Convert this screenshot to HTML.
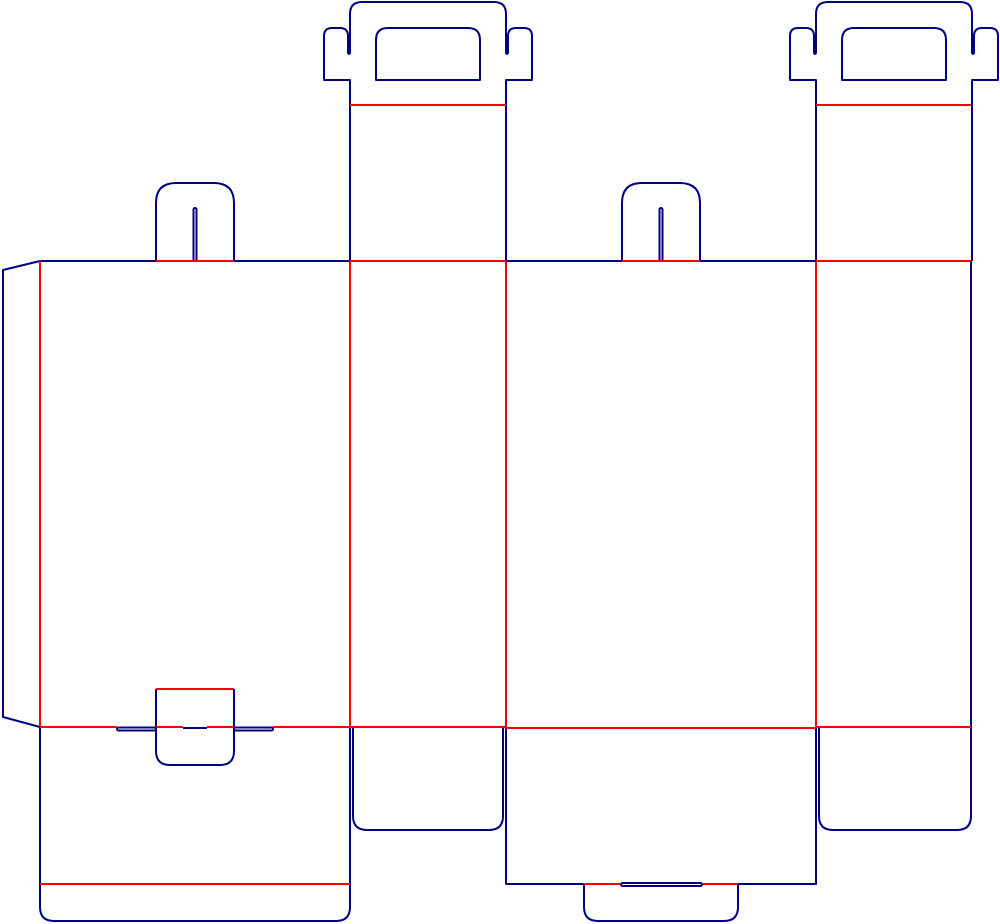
<!DOCTYPE html>
<html><head><meta charset="utf-8"><style>html,body{margin:0;padding:0;background:#fff}svg{display:block}</style></head>
<body>
<svg width="1000" height="924" viewBox="0 0 1000 924" xmlns="http://www.w3.org/2000/svg" fill="none" stroke-width="2" stroke-linejoin="round">
<g stroke="#000080">
<path d="M40 261 L3 270 L3 717 L40 727"/>
<path d="M40 261 H156 M234 261 H350 M506 261 H622 M700 261 H816"/>
<path d="M156 261 V203 Q156 183 176 183 H214 Q234 183 234 203 V261"/>
<path d="M622 261 V203 Q622 183 642 183 H680 Q700 183 700 203 V261"/>
<rect x="193.5" y="208" width="3" height="53" rx="1.5"/>
<rect x="659.5" y="208" width="3" height="53" rx="1.5"/>
<g id="h">
<path d="M350 261 V80 H324 V36 Q324 28 332 28 H340 Q348 28 348 36 V53 Q349 55 350 53 V14 Q350 2 362 2 H494 Q506 2 506 14 V53 Q507 55 508 53 V36 Q508 28 516 28 H524 Q532 28 532 36 V80 H506 V261"/>
<path d="M376 80 V40 Q376 28 388 28 H468 Q480 28 480 40 V80 Z"/>
</g>
<use href="#h" transform="translate(466,0)"/>
<path d="M971 261 V727"/>
<path d="M40 727 V907 Q40 921 54 921 H336 Q350 921 350 907 V727"/>
<path d="M353 727 V816 Q353 830 367 830 H489 Q503 830 503 816 V727"/>
<path d="M506 727 V884 H584 M738 884 H816 V727"/>
<path d="M584 884 V907 Q584 921 598 921 H724 Q738 921 738 907 V884"/>
<rect x="621" y="883" width="81" height="3" rx="1.5"/>
<path d="M819 727 V816 Q819 830 833 830 H957 Q971 830 971 816 V727"/>
<path d="M156 689 V751 Q156 765 170 765 H220 Q234 765 234 751 V689"/>
<rect x="117" y="727.5" width="39" height="3" rx="1.5"/>
<rect x="234" y="727.5" width="39" height="3" rx="1.5"/>
<path d="M183 728 H207"/>
</g>
<g stroke="#ff0000">
<path d="M40 261 V727 M350 261 V727 M506 261 V727 M816 261 V727"/>
<path d="M156 261 H234 M622 261 H700 M350 261 H506 M816 261 H971"/>
<path d="M40 727 H117 M156 727 H183 M207 727 H234 M273 727 H506 M506 728 H816 M816 727 H971"/>
<path d="M156 689 H234"/>
<path d="M350 105 H506 M816 105 H971"/>
<path d="M40 884 H350 M584 884 H620 M703 884 H738"/>
</g>
</svg>
</body></html>
